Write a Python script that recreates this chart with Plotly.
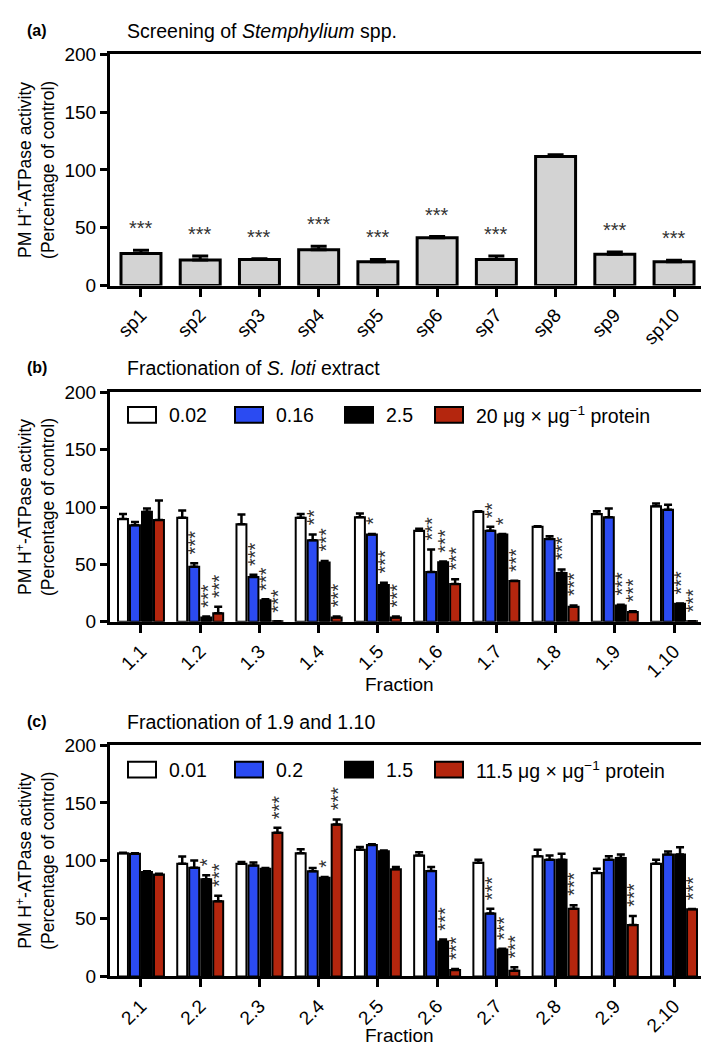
import plotly.graph_objects as go

# ---- panel (a): screening ----
a_labels = ["sp1", "sp2", "sp3", "sp4", "sp5", "sp6", "sp7", "sp8", "sp9", "sp10"]
a_mean = [27.7, 22.0, 22.6, 31.0, 20.6, 41.3, 22.6, 111.5, 27.0, 20.6]
a_err = [2.8, 3.5, 0.5, 3.0, 2.0, 1.1, 2.9, 1.5, 2.0, 1.2]
a_sig = ["***", "***", "***", "***", "***", "***", "***", "", "***", "***"]

# ---- panel (b): fractionation of S. loti extract ----
b_labels = ["1.1", "1.2", "1.3", "1.4", "1.5", "1.6", "1.7", "1.8", "1.9", "1.10"]
b_names = ["0.02", "0.16", "2.5", "20 \u03bcg \u00d7 \u03bcg<sup>\u22121</sup> protein"]
b_mean = [
    [89.5, 90.7, 85.0, 90.7, 91.0, 79.3, 95.8, 82.7, 93.8, 100.6],
    [84.0, 48.0, 39.0, 71.0, 76.0, 43.3, 79.3, 72.2, 91.0, 97.7],
    [95.8, 3.7, 18.7, 51.6, 32.0, 51.8, 76.0, 42.5, 14.2, 15.6],
    [88.7, 7.4, 0.3, 3.7, 3.7, 32.9, 35.4, 13.0, 8.5, 0.3],
]
b_err = [
    [4.5, 6.3, 8.5, 3.3, 3.3, 1.7, 0.5, 0.6, 2.5, 2.4],
    [3.0, 3.0, 2.0, 5.0, 0.5, 19.7, 3.4, 2.3, 7.6, 4.3],
    [2.8, 0.8, 0.8, 1.4, 2.0, 0.6, 0.5, 3.1, 0.5, 0.3],
    [17.0, 5.6, 0.0, 0.8, 0.8, 4.1, 0.3, 1.2, 0.5, 0.0],
]
b_sig = [
    [""] * 10,
    ["", "***", "***", "**", "*", "***", "**", "", "", ""],
    ["", "***", "***", "***", "***", "***", "*", "***", "***", "***"],
    ["", "***", "***", "***", "***", "***", "***", "***", "***", "***"],
]

# ---- panel (c): fractionation of 1.9 and 1.10 ----
c_labels = ["2.1", "2.2", "2.3", "2.4", "2.5", "2.6", "2.7", "2.8", "2.9", "2.10"]
c_names = ["0.01", "0.2", "1.5", "11.5 \u03bcg \u00d7 \u03bcg<sup>\u22121</sup> protein"]
c_mean = [
    [106.5, 97.5, 97.5, 106.5, 109.6, 104.5, 98.3, 104.0, 89.5, 97.5],
    [106.0, 94.0, 96.0, 91.0, 113.6, 91.2, 54.5, 101.0, 100.8, 105.4],
    [90.4, 84.0, 93.2, 85.3, 108.2, 30.2, 23.2, 100.8, 102.5, 105.4],
    [88.1, 65.0, 124.3, 131.4, 92.7, 5.5, 5.0, 58.5, 44.4, 58.0],
]
c_err = [
    [0.5, 6.2, 1.4, 3.5, 2.4, 2.8, 2.7, 5.6, 3.7, 3.5],
    [0.5, 6.3, 2.6, 2.8, 0.8, 3.4, 4.0, 3.5, 3.2, 2.6],
    [0.6, 3.6, 0.6, 0.6, 0.6, 1.7, 0.8, 5.2, 2.9, 6.2],
    [0.6, 4.8, 4.2, 4.2, 1.9, 1.0, 3.0, 3.1, 7.9, 0.2],
]
c_sig = [
    [""] * 10,
    ["", "", "", "", "", "", "***", "", "", ""],
    ["", "*", "", "*", "", "***", "***", "", "", ""],
    ["", "***", "***", "***", "", "***", "***", "***", "***", "***"],
]

colors = ["#ffffff", "#2b4bf2", "#000000", "#b4260e"]
FONT = "Liberation Sans, Arial, Helvetica, sans-serif"
W, H = 709, 1049
BARGAP = 0.19
NSER = 4

fig = go.Figure()

xs = list(range(10))
fig.add_trace(go.Bar(
    x=xs, y=a_mean, width=0.675, xaxis="x", yaxis="y", showlegend=False,
    marker=dict(color="#d3d3d3", line=dict(color="black", width=3)),
    error_y=dict(type="data", array=a_err, arrayminus=[0] * 10, symmetric=False,
                 color="black", thickness=3, width=8),
))

for panel, (means, errs, names) in enumerate([(b_mean, b_err, b_names), (c_mean, c_err, c_names)], start=2):
    for k in range(NSER):
        fig.add_trace(go.Bar(
            x=xs, y=means[k], name=names[k], xaxis=f"x{panel}", yaxis=f"y{panel}",
            showlegend=False,
            marker=dict(color=colors[k], line=dict(color="black", width=2)),
            error_y=dict(type="data", array=errs[k], arrayminus=[0] * 10, symmetric=False,
                         color="black", thickness=2.5, width=4),
        ))

annotations = []
shapes = []

# significance stars
for i, s in enumerate(a_sig):
    if s:
        annotations.append(dict(
            x=i, y=a_mean[i] + a_err[i], xref="x", yref="y", text=s, showarrow=False,
            yanchor="middle", yshift=22, font=dict(size=20, family=FONT, color="#333")))

slot = (1 - BARGAP) / NSER
for panel, (means, errs, sigs) in enumerate([(b_mean, b_err, b_sig), (c_mean, c_err, c_sig)], start=2):
    for k in range(NSER):
        for i in range(10):
            s = sigs[k][i]
            if not s:
                continue
            annotations.append(dict(
                x=i + (k - 1.5) * slot, y=means[k][i] + errs[k][i],
                xref=f"x{panel}", yref=f"y{panel}", text=s, showarrow=False,
                textangle=-90, yanchor="bottom", yshift=7, xshift=1,
                font=dict(size=20, family=FONT, color="#333")))

# panel letters and titles
titles = [
    ("(a)", "Screening of <i>Stemphylium</i> spp.", 13),
    ("(b)", "Fractionation of <i>S. loti</i> extract", 357),
    ("(c)", "Fractionation of 1.9 and 1.10", 718),
]
for letter, title, ypx in titles:
    annotations.append(dict(x=17 / W, y=1 - ypx / H, xref="paper", yref="paper", text=f"<b>{letter}</b>",
                            showarrow=False, xanchor="left", yanchor="middle",
                            font=dict(size=16, family=FONT, color="black")))
    annotations.append(dict(x=117 / W, y=1 - ypx / H, xref="paper", yref="paper", text=title,
                            showarrow=False, xanchor="left", yanchor="middle",
                            font=dict(size=19.5, family=FONT, color="black")))

# "Fraction" axis titles
for ypx in (680, 1038):
    annotations.append(dict(x=391 / W, y=1 - ypx / H, xref="paper", yref="paper", text="Fraction",
                            showarrow=False, xanchor="center", yanchor="middle",
                            font=dict(size=19, family=FONT, color="black")))

# legends drawn as boxed swatches inside panels (b) and (c)
leg_left = [120, 227, 337, 427]
for names, yc in ((b_names, 405), (c_names, 767)):
    for k in range(NSER):
        x0 = leg_left[k]
        shapes.append(dict(type="rect", xref="paper", yref="paper",
                           x0=x0 / W, x1=(x0 + 28) / W, y0=1 - (yc + 8) / H, y1=1 - (yc - 8) / H,
                           fillcolor=colors[k], line=dict(color="black", width=2)))
        annotations.append(dict(x=(x0 + 39) / W, y=1 - yc / H, xref="paper", yref="paper",
                                text=names[k], showarrow=False, xanchor="left", yanchor="middle",
                                font=dict(size=19.5, family=FONT, color="black")))

x_dom = [102 / W, 702 / W]
y_doms = [(37, 273), (382, 616), (742, 978)]

axis_common = dict(showline=True, linewidth=3, linecolor="black", mirror=True,
                   showgrid=False, zeroline=False, ticks="outside", tickwidth=3,
                   tickcolor="black", tickfont=dict(size=19, family=FONT, color="black"))

layout = dict(
    width=W, height=H, paper_bgcolor="white", plot_bgcolor="white",
    margin=dict(l=0, r=0, t=0, b=0), barmode="group", bargap=BARGAP, bargroupgap=0.17,
    font=dict(family=FONT, color="black"), annotations=annotations, shapes=shapes,
    showlegend=False,
)

tick_sets = [a_labels, b_labels, c_labels]
for n, ((top, bot), ticks) in enumerate(zip(y_doms, tick_sets), start=1):
    sfx = "" if n == 1 else str(n)
    layout[f"xaxis{sfx}"] = dict(
        axis_common, domain=x_dom, anchor=f"y{sfx}", range=[-0.523, 9.607],
        tickmode="array", tickvals=xs, ticktext=ticks, tickangle=-45, ticklen=8,
    )
    layout[f"yaxis{sfx}"] = dict(
        axis_common, domain=[1 - bot / H, 1 - top / H], anchor=f"x{sfx}", range=[0, 200],
        tickmode="array", tickvals=[0, 50, 100, 150, 200], ticklen=7,
        title=dict(text="PM H<sup>+</sup>-ATPase activity<br>(Percentage of control)",
                   font=dict(size=17.5, family=FONT), standoff=6),
    )

fig.update_layout(**layout)
fig.write_html("out.html")
